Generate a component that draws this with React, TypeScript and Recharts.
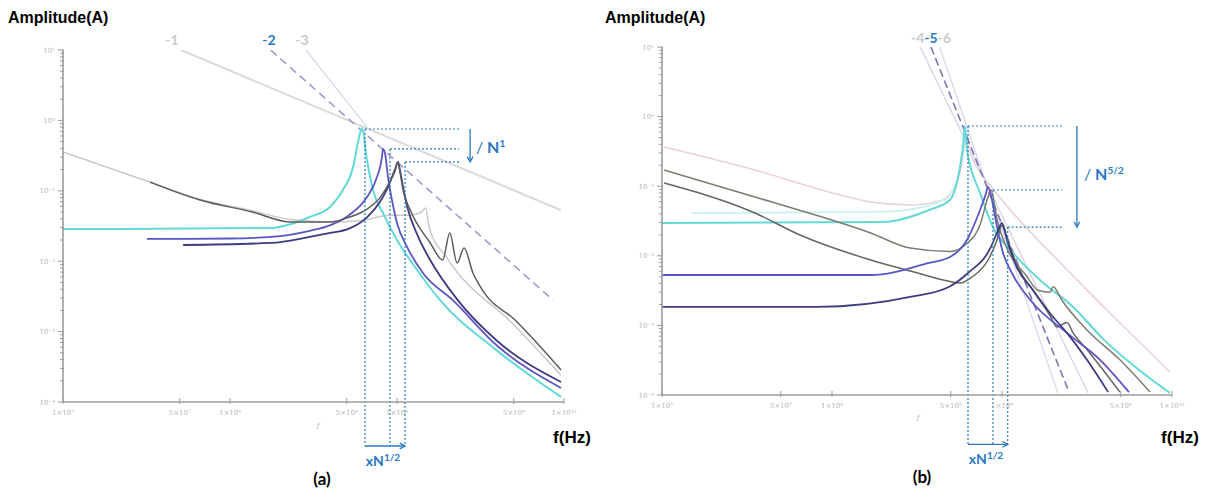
import React from 'react';
import { LineChart, Line, XAxis, YAxis, ReferenceLine } from 'recharts';

type Pt = { f: number; a: number };

// ---------- panel (a) : amplitude vs frequency, N stacked ----------
const slopeA1: Pt[] = [{ f: 5.1e7, a: 10 }, { f: 9.6e9, a: 0.053 }];
const slopeA2: Pt[] = [{ f: 1.75e8, a: 10 }, { f: 8.6e9, a: 0.0028 }];
const slopeA3: Pt[] = [{ f: 2.85e8, a: 10 }, { f: 6.9e8, a: 0.71 }];

const lightGreyA: Pt[] = [
  { f: 1e7, a: 0.356 }, { f: 3.3e7, a: 0.133 }, { f: 6.6e7, a: 0.076 }, { f: 1.36e8, a: 0.052 },
  { f: 2.3e8, a: 0.039 }, { f: 3.9e8, a: 0.036 }, { f: 6.2e8, a: 0.038 }, { f: 9.0e8, a: 0.045 },
  { f: 1.2e9, a: 0.045 }, { f: 1.4e9, a: 0.05 }, { f: 1.48e9, a: 0.057 }, { f: 1.56e9, a: 0.03 },
  { f: 2.0e9, a: 0.011 }, { f: 5.1e9, a: 0.0012 }, { f: 9.6e9, a: 2.4e-4 },
];
const cyanA: Pt[] = [
  { f: 1e7, a: 0.0286 }, { f: 1.76e8, a: 0.0296 }, { f: 2.32e8, a: 0.0337 }, { f: 3.0e8, a: 0.0425 },
  { f: 3.97e8, a: 0.0589 }, { f: 4.75e8, a: 0.103 }, { f: 5.46e8, a: 0.218 }, { f: 5.83e8, a: 0.478 },
  { f: 6.17e8, a: 0.78 }, { f: 6.61e8, a: 0.274 }, { f: 7.18e8, a: 0.103 }, { f: 8.24e8, a: 0.0484 },
  { f: 1.0e9, a: 0.02 }, { f: 1.32e9, a: 0.0075 }, { f: 1.81e9, a: 0.0028 }, { f: 3.92e9, a: 5.5e-4 },
  { f: 9.6e9, a: 1.18e-4 },
];
const blueA: Pt[] = [
  { f: 3.18e7, a: 0.0207 }, { f: 1.0e8, a: 0.021 }, { f: 1.76e8, a: 0.0221 }, { f: 3.0e8, a: 0.027 },
  { f: 3.92e8, a: 0.032 }, { f: 5.16e8, a: 0.045 }, { f: 6.61e8, a: 0.0816 }, { f: 7.59e8, a: 0.157 },
  { f: 8.13e8, a: 0.302 }, { f: 8.24e8, a: 0.393 }, { f: 8.47e8, a: 0.344 }, { f: 8.83e8, a: 0.157 },
  { f: 9.33e8, a: 0.074 }, { f: 1.0e9, a: 0.035 }, { f: 1.15e9, a: 0.0159 }, { f: 1.43e9, a: 0.0068 },
  { f: 2.16e9, a: 0.0028 }, { f: 3.92e9, a: 6.5e-4 }, { f: 9.6e9, a: 1.58e-4 },
];
const navyA: Pt[] = [
  { f: 5.24e7, a: 0.017 }, { f: 1.76e8, a: 0.0182 }, { f: 3.0e8, a: 0.0221 }, { f: 3.92e8, a: 0.025 },
  { f: 5.16e8, a: 0.029 }, { f: 6.61e8, a: 0.042 }, { f: 7.91e8, a: 0.07 }, { f: 8.83e8, a: 0.113 },
  { f: 9.33e8, a: 0.157 }, { f: 9.72e8, a: 0.2 }, { f: 1.014e9, a: 0.257 }, { f: 1.04e9, a: 0.2 },
  { f: 1.09e9, a: 0.11 }, { f: 1.15e9, a: 0.06 }, { f: 1.32e9, a: 0.024 }, { f: 1.58e9, a: 0.0104 },
  { f: 2.31e9, a: 0.0028 }, { f: 3.92e9, a: 7.6e-4 }, { f: 9.6e9, a: 1.92e-4 },
];
const darkGreyA: Pt[] = [
  { f: 3.32e7, a: 0.133 }, { f: 6.61e7, a: 0.074 }, { f: 1.36e8, a: 0.05 }, { f: 2.32e8, a: 0.036 },
  { f: 3.92e8, a: 0.036 }, { f: 5.16e8, a: 0.042 }, { f: 6.61e8, a: 0.055 }, { f: 7.91e8, a: 0.08 },
  { f: 8.83e8, a: 0.12 }, { f: 9.72e8, a: 0.19 }, { f: 1.014e9, a: 0.257 }, { f: 1.04e9, a: 0.19 },
  { f: 1.09e9, a: 0.1 }, { f: 1.2e9, a: 0.0533 }, { f: 1.58e9, a: 0.0182 }, { f: 1.88e9, a: 0.0104 },
  { f: 2.07e9, a: 0.0252 }, { f: 2.29e9, a: 0.0094 }, { f: 2.52e9, a: 0.0154 }, { f: 2.85e9, a: 0.0068 },
  { f: 3.27e9, a: 0.0038 }, { f: 5.09e9, a: 0.00146 }, { f: 9.6e9, a: 2.85e-4 },
];

// peak guides for (a): [f of peak, amplitude of peak]
const peaksA = [[6.43e8, 0.755], [9.08e8, 0.393], [1.117e9, 0.257]];
const guideEndA = 2.35e9;
const arrowXA = 2.74e9;
const bottomA = 2.37e-5;

// ---------- panel (b) : amplitude vs frequency, N parallel ----------
const slopeB4: Pt[] = [{ f: 3.3e8, a: 10 }, { f: 3.21e9, a: 1.07e-4 }];
const slopeB5: Pt[] = [{ f: 3.82e8, a: 10 }, { f: 2.48e9, a: 1.1e-4 }];
const slopeB6: Pt[] = [{ f: 4.3e8, a: 10 }, { f: 2.13e9, a: 1.07e-4 }];

const pinkB: Pt[] = [
  { f: 1.03e7, a: 0.366 }, { f: 3.52e7, a: 0.171 }, { f: 1.01e8, a: 0.0798 }, { f: 1.69e8, a: 0.0593 },
  { f: 2.88e8, a: 0.0537 }, { f: 4.5e8, a: 0.0634 }, { f: 5.5e8, a: 0.123 }, { f: 5.95e8, a: 0.33 },
  { f: 6.1e8, a: 0.6 }, { f: 6.4e8, a: 0.35 }, { f: 7.4e8, a: 0.16 }, { f: 8.6e8, a: 0.1 },
  { f: 1.16e9, a: 0.0412 }, { f: 1.63e9, a: 0.0169 }, { f: 3.98e9, a: 0.00184 }, { f: 9.72e9, a: 2.14e-4 },
];
const paleCyanB: Pt[] = [
  { f: 1.5e7, a: 0.041 }, { f: 2.0e8, a: 0.043 }, { f: 3.4e8, a: 0.05 }, { f: 4.9e8, a: 0.075 }, { f: 5.6e8, a: 0.15 },
];
const cyanB: Pt[] = [
  { f: 1e7, a: 0.0296 }, { f: 2.0e8, a: 0.0306 }, { f: 3.72e8, a: 0.0455 }, { f: 4.94e8, a: 0.0634 },
  { f: 5.66e8, a: 0.189 }, { f: 5.9e8, a: 0.38 }, { f: 6.05e8, a: 0.733 }, { f: 6.22e8, a: 0.331 },
  { f: 7.43e8, a: 0.0798 }, { f: 8.85e8, a: 0.0259 }, { f: 1.16e9, a: 0.011 }, { f: 1.67e9, a: 0.0045 },
  { f: 2.62e9, a: 0.00184 }, { f: 3.98e9, a: 6.2e-4 }, { f: 6.75e9, a: 2.07e-4 }, { f: 9.72e9, a: 1.07e-4 },
];
const grey1B: Pt[] = [
  { f: 1.03e7, a: 0.171 }, { f: 3.52e7, a: 0.07 }, { f: 1.69e8, a: 0.0213 }, { f: 2.88e8, a: 0.0129 },
  { f: 4.94e8, a: 0.0115 }, { f: 6.22e8, a: 0.015 }, { f: 7.43e8, a: 0.028 }, { f: 8.28e8, a: 0.07 },
  { f: 8.61e8, a: 0.0882 }, { f: 9.35e8, a: 0.033 }, { f: 1.08e9, a: 0.0121 }, { f: 1.38e9, a: 0.0053 },
  { f: 1.63e9, a: 0.0032 }, { f: 1.91e9, a: 0.003 }, { f: 2.0e9, a: 0.0036 }, { f: 2.25e9, a: 0.0023 },
  { f: 3.16e9, a: 8.6e-4 }, { f: 4.94e9, a: 3.2e-4 }, { f: 7.43e9, a: 1.1e-4 },
];
const grey2B: Pt[] = [
  { f: 1.03e7, a: 0.111 }, { f: 3.52e7, a: 0.0412 }, { f: 6.48e7, a: 0.0199 }, { f: 1.69e8, a: 0.0087 },
  { f: 3.03e8, a: 0.00585 }, { f: 4.88e8, a: 0.0043 }, { f: 5.66e8, a: 0.00406 }, { f: 6.67e8, a: 0.00496 },
  { f: 8.28e8, a: 0.0087 }, { f: 9.35e8, a: 0.0169 }, { f: 1.0e9, a: 0.0277 }, { f: 1.08e9, a: 0.0169 },
  { f: 1.22e9, a: 0.0074 }, { f: 1.52e9, a: 0.0032 }, { f: 1.91e9, a: 0.0014 }, { f: 2.11e9, a: 9.5e-4 },
  { f: 2.41e9, a: 0.0011 }, { f: 2.62e9, a: 7.8e-4 }, { f: 3.16e9, a: 4.5e-4 }, { f: 4.94e9, a: 1.1e-4 },
];
const blueB: Pt[] = [
  { f: 1e7, a: 0.0053 }, { f: 1.69e8, a: 0.0053 }, { f: 3.72e8, a: 0.0079 }, { f: 4.94e8, a: 0.0096 },
  { f: 6.22e8, a: 0.0169 }, { f: 7.43e8, a: 0.0455 }, { f: 8.0e8, a: 0.075 }, { f: 8.28e8, a: 0.0975 },
  { f: 8.73e8, a: 0.0634 }, { f: 9.35e8, a: 0.0259 }, { f: 1.014e9, a: 0.011 }, { f: 1.16e9, a: 0.0053 },
  { f: 1.52e9, a: 0.0021 }, { f: 2.41e9, a: 7.8e-4 }, { f: 3.77e9, a: 3.2e-4 }, { f: 5.58e9, a: 1.1e-4 },
];
const navyB: Pt[] = [
  { f: 1e7, a: 0.00184 }, { f: 8.17e7, a: 0.00184 }, { f: 2.88e8, a: 0.00256 }, { f: 4.9e8, a: 0.0036 },
  { f: 6.31e8, a: 0.00566 }, { f: 8.61e8, a: 0.0134 }, { f: 9.35e8, a: 0.0213 }, { f: 1.0e9, a: 0.0296 },
  { f: 1.07e9, a: 0.0169 }, { f: 1.22e9, a: 0.0069 }, { f: 1.52e9, a: 0.00323 }, { f: 1.91e9, a: 0.00151 },
  { f: 2.41e9, a: 7.8e-4 }, { f: 3.16e9, a: 3.2e-4 }, { f: 4.21e9, a: 1.1e-4 },
];

const peaksB = [[6.31e8, 0.733], [8.85e8, 0.0882], [1.08e9, 0.0259]];
const guideEndB = 2.25e9;
const arrowXB = 2.76e9;
const bottomB = 1.95e-5;

// ---------- axes ----------
const xTicks = [1e7, 5e7, 1e8, 5e8, 1e9, 5e9, 1e10];
const yMajor = [1e-4, 1e-3, 1e-2, 1e-1, 1, 10];
const yMinorSteps = [2, 3, 4, 5, 6, 7, 8, 9];
const yTicks = [
  ...yMajor,
  ...yMajor.slice(0, -1).flatMap((m) => yMinorSteps.map((s) => m * s)),
].sort((p, q) => p - q);

const BLUE = '#2a78c4';
const AXIS = '#9c9c9c';
const TICKTXT = '#b4b4b4';

const SUP: Record<string, string> = {
  '0': '⁰', '1': '¹', '2': '²', '3': '³', '4': '⁴', '5': '⁵', '6': '⁶', '7': '⁷', '8': '⁸', '9': '⁹', '-': '⁻',
};
const sup = (n: number) => String(n).split('').map((c) => SUP[c] || c).join('');

const YTick = (props: any) => {
  const { x, y, payload } = props;
  const v = payload.value;
  const e = Math.round(Math.log10(v));
  const major = Math.abs(v / Math.pow(10, e) - 1) < 1e-6;
  return (
    <g>
      <line x1={x - (major ? 5 : 3)} x2={x + 1} y1={y} y2={y} stroke={AXIS} strokeWidth={1} />
      {major && (
        <text x={x - 8} y={y + 2.5} textAnchor="end" fontSize={7} fill={TICKTXT} fontFamily="DejaVu Serif">
          10{sup(e)}
        </text>
      )}
    </g>
  );
};

const XTick = (props: any) => {
  const { x, y, payload } = props;
  const v = payload.value;
  const e = Math.floor(Math.log10(v) + 1e-9);
  const m = Math.round(v / Math.pow(10, e));
  return (
    <g>
      <line x1={x} x2={x} y1={y + 2} y2={y - 4} stroke={AXIS} strokeWidth={1} />
      <text x={x} y={y + 13} textAnchor="middle" fontSize={7} fill={TICKTXT} fontFamily="DejaVu Serif">
        {m}×10{sup(e)}
      </text>
    </g>
  );
};

const Arrow = (p: any) => {
  const { x1, y1, x2, y2 } = p;
  const ang = Math.atan2(y2 - y1, x2 - x1);
  const h = 6;
  const a1 = ang + Math.PI - 0.5;
  const a2 = ang + Math.PI + 0.5;
  return (
    <g>
      <line x1={x1} y1={y1} x2={x2} y2={y2} stroke={BLUE} strokeWidth={1.3} />
      <polyline
        points={`${x2 + h * Math.cos(a1)},${y2 + h * Math.sin(a1)} ${x2},${y2} ${x2 + h * Math.cos(a2)},${y2 + h * Math.sin(a2)}`}
        fill="none"
        stroke={BLUE}
        strokeWidth={1.3}
      />
    </g>
  );
};

const curve = (key: string, data: Pt[], color: string, width: number, dash?: string) => (
  <Line
    key={key}
    data={data}
    dataKey="a"
    type="monotone"
    stroke={color}
    strokeWidth={width}
    strokeDasharray={dash}
    dot={false}
    activeDot={false}
    isAnimationActive={false}
  />
);

// dotted peak guides + arrows, all in data units
const guides = (peaks: number[][], endX: number, arrowX: number, bottom: number) => {
  const out: React.ReactNode[] = [];
  peaks.forEach(([f, a], i) => {
    out.push(
      <ReferenceLine key={`h${i}`} segment={[{ x: f, y: a }, { x: endX, y: a }]} stroke={BLUE}
        strokeWidth={1.2} strokeDasharray="2 2" ifOverflow="visible" />,
      <ReferenceLine key={`v${i}`} segment={[{ x: f, y: a }, { x: f, y: bottom }]} stroke={BLUE}
        strokeWidth={1.2} strokeDasharray="2 2" ifOverflow="visible" />
    );
  });
  out.push(
    <ReferenceLine key="av" segment={[{ x: arrowX, y: peaks[0][1] }, { x: arrowX, y: peaks[2][1] }]}
      ifOverflow="visible" shape={Arrow} />,
    <ReferenceLine key="ah" segment={[{ x: peaks[0][0], y: bottom }, { x: peaks[2][0], y: bottom }]}
      ifOverflow="visible" shape={Arrow} />
  );
  return out;
};

const axes = () => [
  <XAxis key="x" dataKey="f" type="number" scale="log" domain={[1e7, 1e10]} allowDataOverflow ticks={xTicks}
    interval={0} tick={XTick} tickLine={false} tickSize={0} tickMargin={0} height={30}
    axisLine={{ stroke: AXIS, strokeWidth: 1.6 }} />,
  <YAxis key="y" type="number" scale="log" domain={[1e-4, 10]} allowDataOverflow ticks={yTicks}
    interval={0} tick={YTick} tickLine={false} tickSize={0} tickMargin={0} width={40}
    axisLine={{ stroke: AXIS, strokeWidth: 1.6 }} />,
];

const txt = (s: React.CSSProperties): React.CSSProperties => ({ position: 'absolute', whiteSpace: 'nowrap', lineHeight: 1, ...s });
const centered = (x: number, y: number, s: React.CSSProperties = {}) =>
  txt({ left: x, top: y, transform: 'translate(-50%, -50%)', ...s });

const CAL = 'Lato, "Open Sans", sans-serif';
const ARIAL = '"Liberation Sans", Arial, sans-serif';

export default function App() {
  return (
    <div style={{ position: 'absolute', left: 0, top: 0, width: 1207, height: 491, background: '#fff', overflow: 'hidden' }}>
      <div style={{ position: 'absolute', left: 0, top: 0 }}>
        <LineChart width={600} height={491} margin={{ top: 50, right: 36, bottom: 59, left: 23 }}>
          {axes()}
          {curve('s1', slopeA1, '#dadada', 2)}
          {curve('s3', slopeA3, '#dcdcf0', 1.5)}
          {curve('s2', slopeA2, '#9d9bd2', 1.6, '8 5')}
          {curve('lg', lightGreyA, '#cfc6c6', 1.5)}
          {curve('cy', cyanA, '#62d9d6', 2)}
          {curve('bl', blueA, '#5a57c2', 1.8)}
          {curve('nv', navyA, '#3b3b82', 1.8)}
          {curve('dg', darkGreyA, '#5c5c5c', 1.5)}
          {guides(peaksA, guideEndA, arrowXA, bottomA)}
        </LineChart>
      </div>
      <div style={{ position: 'absolute', left: 600, top: 0 }}>
        <LineChart width={607} height={491} margin={{ top: 47, right: 35, bottom: 66, left: 22 }}>
          {axes()}
          {curve('s4', slopeB4, '#d8d8e8', 1.5)}
          {curve('s6', slopeB6, '#dcdcee', 1.5)}
          {curve('pk', pinkB, '#ead2d2', 1.6)}
          {curve('pc', paleCyanB, '#c8f1f1', 1.6)}
          {curve('s5', slopeB5, '#7b76b2', 1.6, '8 4')}
          {curve('cy', cyanB, '#62d9d6', 2)}
          {curve('g1', grey1B, '#7c7c70', 1.5)}
          {curve('g2', grey2B, '#66665c', 1.5)}
          {curve('bl', blueB, '#5a57c8', 1.8)}
          {curve('nv', navyB, '#3d3d80', 1.8)}
          {guides(peaksB, guideEndB, arrowXB, bottomB)}
        </LineChart>
      </div>

      {/* panel (a) labels */}
      <div style={txt({ left: 8, top: 10, fontFamily: ARIAL, fontWeight: 700, fontSize: 16 })}>Amplitude(A)</div>
      <div style={centered(172, 40, { fontFamily: CAL, fontWeight: 700, fontSize: 14, color: '#cacaca' })}>-1</div>
      <div style={centered(269, 40, { fontFamily: CAL, fontWeight: 700, fontSize: 14, color: BLUE })}>-2</div>
      <div style={centered(302, 40, { fontFamily: CAL, fontWeight: 700, fontSize: 14, color: '#cacaca' })}>-3</div>
      <div style={txt({ left: 476, top: 138, fontFamily: CAL, fontWeight: 700, fontSize: 16, color: BLUE })}>
        <span style={{ fontWeight: 400 }}>/</span> N<sup style={{ fontSize: 10 }}>1</sup>
      </div>
      <div style={centered(383, 460, { fontFamily: CAL, fontWeight: 700, fontSize: 14, color: BLUE })}>
        xN<sup style={{ fontSize: 10 }}>1/2</sup>
      </div>
      <div style={centered(318, 426, { fontFamily: 'DejaVu Serif', fontStyle: 'italic', fontSize: 7, color: TICKTXT })}>f</div>
      <div style={centered(572, 437, { fontFamily: ARIAL, fontWeight: 700, fontSize: 17 })}>f(Hz)</div>
      <div style={centered(322, 478, { fontFamily: CAL, fontWeight: 700, fontSize: 17 })}>(a)</div>

      {/* panel (b) labels */}
      <div style={txt({ left: 605, top: 10, fontFamily: ARIAL, fontWeight: 700, fontSize: 16 })}>Amplitude(A)</div>
      <div style={centered(931, 38, { fontFamily: CAL, fontWeight: 700, fontSize: 14, color: '#cacaca' })}>
        -4<span style={{ color: BLUE }}>-5</span>-6
      </div>
      <div style={txt({ left: 1084, top: 165, fontFamily: CAL, fontWeight: 700, fontSize: 16, color: BLUE })}>
        <span style={{ fontWeight: 400 }}>/</span> N<sup style={{ fontSize: 10 }}>5/2</sup>
      </div>
      <div style={centered(986, 458, { fontFamily: CAL, fontWeight: 700, fontSize: 14, color: BLUE })}>
        xN<sup style={{ fontSize: 10 }}>1/2</sup>
      </div>
      <div style={centered(918, 418, { fontFamily: 'DejaVu Serif', fontStyle: 'italic', fontSize: 7, color: TICKTXT })}>f</div>
      <div style={centered(1180, 437, { fontFamily: ARIAL, fontWeight: 700, fontSize: 17 })}>f(Hz)</div>
      <div style={centered(922, 476, { fontFamily: CAL, fontWeight: 700, fontSize: 17 })}>(b)</div>
    </div>
  );
}
